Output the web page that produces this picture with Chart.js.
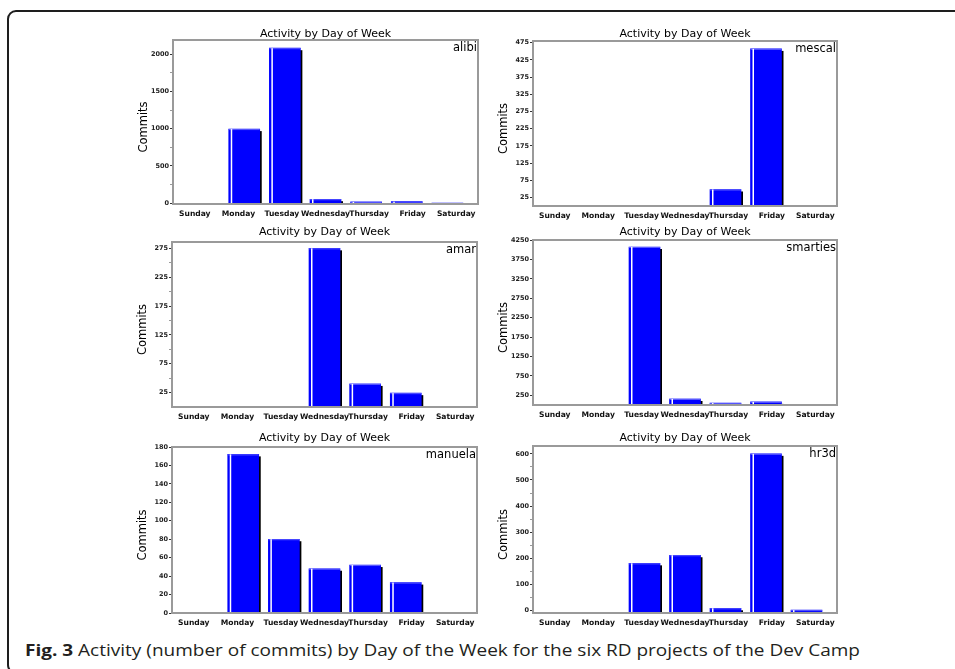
<!DOCTYPE html>
<html>
<head>
<meta charset="utf-8">
<script src="https://cdn.jsdelivr.net/npm/chart.js@4.4.1/dist/chart.umd.min.js"></script>
<style>
  html, body { margin: 0; padding: 0; background: #fff; }
  body { width: 955px; height: 669px; position: relative; overflow: hidden; }
  .frame {
    position: absolute; left: 7px; top: 10px; width: 1000px; height: 664px;
    border: 2px solid #1e1e1e; border-radius: 9px; box-sizing: border-box;
  }
  canvas { position: absolute; }
  .caption {
    position: absolute; left: 25px; top: 642px; display: inline-block;
    font-family: "Open Sans", sans-serif; font-size: 16px; line-height: 16px;
    color: #231f20; white-space: nowrap; transform-origin: left top;
  }
  .caption b { font-weight: 700; }
</style>
</head>
<body>
<div class="frame"></div>
<div class="caption" id="caption"><b>Fig. 3</b> Activity (number of commits) by Day of the Week for the six RD projects of the Dev Camp</div>
<script>
const days = ['Sunday', 'Monday', 'Tuesday', 'Wednesday', 'Thursday', 'Friday', 'Saturday'];

// commits per day of week
const alibi    = [0, 995, 2080, 54, 18, 21, 2];
const mescal   = [0, 0, 0, 0, 48, 457, 0];
const amar     = [0, 0, 0, 275, 40, 24, 0];
const smarties = [0, 0, 4070, 155, 50, 80, 0];
const manuela  = [0, 172, 80, 48, 52, 33, 0];
const hr3d     = [0, 0, 181, 212, 9, 600, 2];

// labelled y ticks
const alibiTicks    = [0, 500, 1000, 1500, 2000];
const mescalTicks   = [25, 75, 125, 175, 225, 275, 325, 375, 425, 475];
const amarTicks     = [25, 75, 125, 175, 225, 275];
const smartiesTicks = [250, 750, 1250, 1750, 2250, 2750, 3250, 3750, 4250];
const manuelaTicks  = [0, 20, 40, 60, 80, 100, 120, 140, 160, 180];
const hr3dTicks     = [0, 100, 200, 300, 400, 500, 600];

// y axis bounds
const alibiRange    = [-10, 2190];
const mescalRange   = [0, 480];
const amarRange     = [0, 286];
const smartiesRange = [0, 4250];
const manuelaRange  = [0, 180];
const hr3dRange     = [-9, 630];

const projects = [
  { name: 'alibi',    values: alibi,    ticks: alibiTicks,    range: alibiRange },
  { name: 'mescal',   values: mescal,   ticks: mescalTicks,   range: mescalRange },
  { name: 'amar',     values: amar,     ticks: amarTicks,     range: amarRange },
  { name: 'smarties', values: smarties, ticks: smartiesTicks, range: smartiesRange },
  { name: 'manuela',  values: manuela,  ticks: manuelaTicks,  range: manuelaRange },
  { name: 'hr3d',     values: hr3d,     ticks: hr3dTicks,     range: hr3dRange },
];

// plot boxes on the page: left, top, right, bottom, title baseline
const boxes = [
  [173, 40, 478, 204, 37],
  [533, 41, 837, 206, 37],
  [172, 242, 477, 407, 235],
  [533, 240, 837, 405, 235],
  [172, 447, 477, 613, 441],
  [533, 446, 837, 613, 441],
];

const PAD_L = 60, PAD_T = 30, PAD_R = 6, PAD_B = 24;
const BAR_MARGIN = 0.753; // bars sit a bit inside the label slots

Chart.defaults.font.family = 'DejaVu Sans';

function eachBar(chart, fn) {
  const meta = chart.getDatasetMeta(0);
  meta.data.forEach((bar, i) => {
    if (!chart.data.datasets[0].data[i].y) return;
    const p = bar.getProps(['x', 'y', 'base', 'width'], true);
    fn(p.x - p.width / 2, Math.min(p.y, p.base), p.width, Math.max(p.y, p.base));
  });
}

const decor = {
  id: 'decor',
  beforeDatasetsDraw(chart) {
    const { ctx, chartArea: a } = chart;
    ctx.save();
    ctx.beginPath();
    ctx.rect(a.left, a.top, a.right - a.left, a.bottom - a.top);
    ctx.clip();
    ctx.fillStyle = '#000';
    eachBar(chart, (l, top, w, base) => {
      const h = base - top - 2;
      if (h > 0) ctx.fillRect(l + 2, top + 2, w, h);
    });
    ctx.restore();
  },
  afterDatasetsDraw(chart) {
    const { ctx } = chart;
    ctx.save();
    eachBar(chart, (l, top, w, base) => {
      ctx.fillStyle = '#5a5aff';
      ctx.fillRect(l, top, w, 1);
      ctx.fillStyle = '#fff';
      ctx.fillRect(l + 2, top, 1.5, base - top);
    });
    ctx.restore();
  },
  afterDraw(chart, args, opts) {
    const { ctx, chartArea: a } = chart;
    ctx.save();
    ctx.strokeStyle = '#9a9a9a';
    ctx.lineWidth = 2;
    ctx.strokeRect(a.left, a.top, a.right - a.left, a.bottom - a.top);

    ctx.fillStyle = '#000';
    ctx.font = '11px "DejaVu Sans"';
    ctx.textBaseline = 'alphabetic';
    ctx.textAlign = 'center';
    ctx.fillText('Activity by Day of Week', (a.left + a.right) / 2, opts.titleY);
    ctx.font = '11.5px "DejaVu Sans"';
    ctx.textAlign = 'right';
    ctx.fillText(opts.name, a.right - 1, a.top + 11);

    ctx.font = '11.5px "DejaVu Sans"';
    ctx.translate(a.left - 29, (a.top + a.bottom) / 2 + 5);
    ctx.rotate(-Math.PI / 2);
    ctx.textAlign = 'center';
    ctx.textBaseline = 'middle';
    ctx.fillText('Commits', 0, 0);
    ctx.restore();
  }
};

projects.forEach((p, i) => {
  const [l, t, r, b, ty] = boxes[i];
  const cv = document.createElement('canvas');
  const w = r - l + PAD_L + PAD_R;
  const h = b - t + PAD_T + PAD_B;
  cv.width = w; cv.height = h;
  cv.style.left = (l - PAD_L) + 'px';
  cv.style.top = (t - PAD_T) + 'px';
  cv.style.width = w + 'px';
  cv.style.height = h + 'px';
  document.body.appendChild(cv);

  const major = new Set(p.ticks);
  const tickVals = p.ticks.slice();
  for (let k = 0; k < p.ticks.length - 1; k++) {
    tickVals.push((p.ticks[k] + p.ticks[k + 1]) / 2);
  }
  tickVals.sort((a, b) => a - b);

  new Chart(cv.getContext('2d'), {
    type: 'bar',
    data: {
      labels: days,
      datasets: [{
        xAxisID: 'xb',
        yAxisID: 'y',
        data: p.values.map((v, k) => ({ x: k, y: v })),
        base: p.range[0],
        barThickness: 31,
        borderWidth: 0,
        backgroundColor: c => (c.raw && c.raw.y > 0 ? '#0000ff' : 'rgba(0,0,0,0)'),
      }]
    },
    options: {
      responsive: false,
      animation: false,
      devicePixelRatio: 1,
      layout: { padding: { top: PAD_T, right: PAD_R, left: 0, bottom: 0 } },
      plugins: {
        legend: { display: false },
        tooltip: { enabled: false },
        decor: { name: p.name, titleY: ty - (t - PAD_T) }
      },
      scales: {
        x: {
          type: 'category',
          labels: days,
          offset: true,
          grid: { display: false, drawTicks: false },
          border: { display: false },
          ticks: {
            autoSkip: false, maxRotation: 0, minRotation: 0, padding: 5,
            color: '#111',
            font: { family: 'DejaVu Sans', size: 7.6, weight: 'bold' }
          },
          afterFit: s => { s.height = PAD_B; }
        },
        xb: {
          type: 'linear',
          axis: 'x',
          display: false,
          offset: false,
          min: -BAR_MARGIN,
          max: days.length - 1 + BAR_MARGIN
        },
        y: {
          min: p.range[0],
          max: p.range[1],
          afterBuildTicks: s => { s.ticks = tickVals.map(v => ({ value: v })); },
          afterFit: s => { s.width = PAD_L; },
          border: { display: false },
          grid: {
            drawOnChartArea: false,
            tickLength: 3,
            tickColor: c => (c.tick && major.has(c.tick.value) ? '#333' : '#999')
          },
          ticks: {
            padding: 1,
            color: '#222',
            font: { family: 'DejaVu Sans', size: 6.5, weight: 'bold' },
            callback: v => (major.has(v) ? String(v) : '')
          }
        }
      }
    },
    plugins: [decor]
  });
});

// stretch the caption to the width it has in the figure
function fitCaption() {
  const cap = document.getElementById('caption');
  cap.style.transform = 'none';
  const cw = cap.getBoundingClientRect().width;
  cap.style.transform = 'scaleX(' + (835 / cw) + ')';
}
fitCaption();
if (document.fonts) document.fonts.ready.then(fitCaption);
</script>
</body>
</html>
